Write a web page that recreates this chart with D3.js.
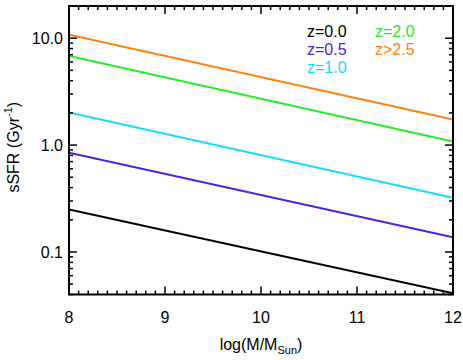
<!DOCTYPE html>
<html><head><meta charset="utf-8">
<script src="https://cdn.jsdelivr.net/npm/d3@7"></script>
<style>body{margin:0;background:#fff}svg{display:block}text{font-family:"Liberation Sans",Arial,sans-serif}</style>
</head><body>
<script>
const massX = [8, 12];
const seriesNames = ["z=0.0", "z=0.5", "z=1.0", "z=2.0", "z>2.5"];
const z00 = [0.25, 0.041];
const z05 = [0.85, 0.137];
const z10 = [2.02, 0.322];
const z20 = [6.8, 1.08];
const z25 = [10.8, 1.73];
const seriesColors = ["#000000", "#4a22e8", "#11ddff", "#22ee22", "#ff8011"];
const xTicks = [8, 9, 10, 11, 12];
const yTicks = [0.1, 1, 10];
const yTickLabels = ["0.1", "1.0", "10.0"];

(function () {
const W = 463, H = 360;
const m = {l: 69, r: 10, t: 6, b: 65.5};
const svg = d3.select("body").append("svg").attr("width", W).attr("height", H);
const x = d3.scaleLinear().domain([8, 12]).range([m.l, W - m.r]);
const y = d3.scaleLog().domain([0.04, 20]).range([H - m.b, m.t]);
const fs = 16;

const series = [z00, z05, z10, z20, z25];
const line = d3.line().x((d, i) => x(massX[i])).y(d => y(d));
svg.append("clipPath").attr("id", "c").append("rect")
  .attr("x", m.l).attr("y", m.t).attr("width", W - m.r - m.l).attr("height", H - m.b - m.t);
series.forEach((s, k) => {
  svg.append("path").datum(s).attr("d", line).attr("fill", "none")
    .attr("stroke", seriesColors[k]).attr("stroke-width", 2).attr("clip-path", "url(#c)");
});

const xMinor = d3.range(80, 121).map(v => v / 10).filter(v => !xTicks.includes(v));
const yMinor = [];
[0.01, 0.1, 1, 10].forEach(d => { for (let k = 2; k <= 9; k++) { const v = d * k; if (v >= 0.04 && v <= 20) yMinor.push(v); } });

const ax = svg.append("g").attr("stroke", "#000").attr("stroke-width", 1.5);
const pt = m.t, pb = H - m.b, pl = m.l, pr = W - m.r;
xTicks.forEach(v => {
  ax.append("line").attr("x1", x(v)).attr("x2", x(v)).attr("y1", pb).attr("y2", pb - 8);
  ax.append("line").attr("x1", x(v)).attr("x2", x(v)).attr("y1", pt).attr("y2", pt + 8);
});
xMinor.forEach(v => {
  ax.append("line").attr("x1", x(v)).attr("x2", x(v)).attr("y1", pb).attr("y2", pb - 4);
  ax.append("line").attr("x1", x(v)).attr("x2", x(v)).attr("y1", pt).attr("y2", pt + 4);
});
yTicks.forEach(v => {
  ax.append("line").attr("x1", pl).attr("x2", pl + 8).attr("y1", y(v)).attr("y2", y(v));
  ax.append("line").attr("x1", pr).attr("x2", pr - 8).attr("y1", y(v)).attr("y2", y(v));
});
yMinor.forEach(v => {
  ax.append("line").attr("x1", pl).attr("x2", pl + 4).attr("y1", y(v)).attr("y2", y(v));
  ax.append("line").attr("x1", pr).attr("x2", pr - 4).attr("y1", y(v)).attr("y2", y(v));
});
svg.append("rect").attr("x", pl).attr("y", pt).attr("width", pr - pl).attr("height", pb - pt)
  .attr("fill", "none").attr("stroke", "#000").attr("stroke-width", 2);

xTicks.forEach(v => {
  svg.append("text").attr("x", x(v)).attr("y", pb + 28).attr("text-anchor", "middle")
    .attr("font-size", fs).text(v);
});
yTicks.forEach((v, i) => {
  svg.append("text").attr("x", pl - 6).attr("y", y(v)).attr("dy", "0.36em").attr("text-anchor", "end")
    .attr("font-size", fs).text(yTickLabels[i]);
});

const xt = svg.append("text").attr("x", (pl + pr) / 2).attr("y", 350).attr("text-anchor", "middle").attr("font-size", fs);
xt.append("tspan").text("log(M/M");
xt.append("tspan").attr("font-size", 11).attr("dy", 4).text("Sun");
xt.append("tspan").attr("dy", -4).text(")");
const yt = svg.append("text").attr("transform", `translate(19,${(pt + pb) / 2 - 3}) rotate(-90)`)
  .attr("text-anchor", "middle").attr("font-size", fs);
yt.append("tspan").text("sSFR (Gyr");
yt.append("tspan").attr("font-size", 11).attr("dy", -7).text("-1");
yt.append("tspan").attr("dy", 7).text(")");

const legPos = [[307, 37], [307, 55], [307, 73], [375, 37], [375, 55]];
seriesNames.forEach((n, k) => {
  svg.append("text").attr("x", legPos[k][0]).attr("y", legPos[k][1]).attr("font-size", fs)
    .attr("fill", seriesColors[k]).text(n);
});
})();
</script>
</body></html>
